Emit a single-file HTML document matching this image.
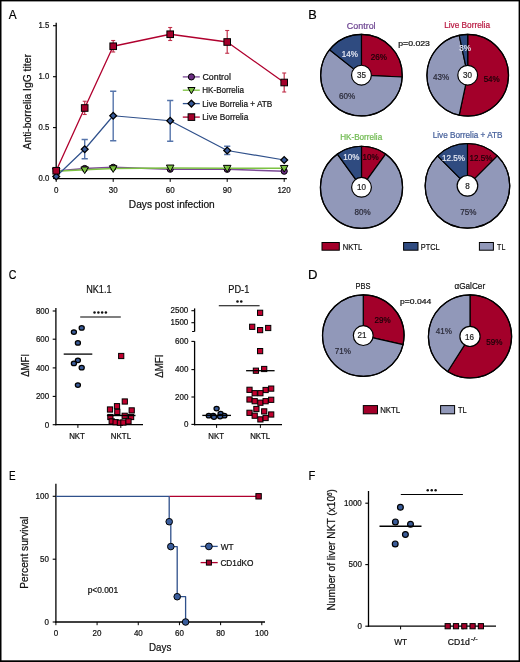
<!DOCTYPE html>
<html><head><meta charset="utf-8"><style>
html,body{margin:0;padding:0;background:#fff;}
svg{display:block;font-family:"Liberation Sans", sans-serif;will-change:transform;}
</style></head><body>
<svg width="520" height="662" viewBox="0 0 520 662">
<rect x="0" y="0" width="520" height="662" fill="#fff"/>
<text transform="translate(8.84,18.75) scale(0.885,1)" font-size="13.36" fill="#000" stroke="#000" stroke-width="0.2" >A</text>
<line x1="56.20" y1="22.80" x2="56.20" y2="179.30" stroke="#000" stroke-width="1.3" />
<line x1="55.60" y1="178.70" x2="286.90" y2="178.70" stroke="#000" stroke-width="1.3" />
<line x1="53.00" y1="178.50" x2="56.20" y2="178.50" stroke="#000" stroke-width="1.1" />
<text transform="translate(38.45,181.11) scale(0.900,1)" font-size="8.60" fill="#111" stroke="#111" stroke-width="0.22" >0.0</text>
<line x1="53.00" y1="127.60" x2="56.20" y2="127.60" stroke="#000" stroke-width="1.1" />
<text transform="translate(38.45,130.21) scale(0.900,1)" font-size="8.60" fill="#111" stroke="#111" stroke-width="0.22" >0.5</text>
<line x1="53.00" y1="76.70" x2="56.20" y2="76.70" stroke="#000" stroke-width="1.1" />
<text transform="translate(38.45,79.31) scale(0.900,1)" font-size="8.60" fill="#111" stroke="#111" stroke-width="0.22" >1.0</text>
<line x1="53.00" y1="25.70" x2="56.20" y2="25.70" stroke="#000" stroke-width="1.1" />
<text transform="translate(38.45,28.27) scale(0.900,1)" font-size="8.60" fill="#111" stroke="#111" stroke-width="0.22" >1.5</text>
<line x1="56.20" y1="178.70" x2="56.20" y2="181.90" stroke="#000" stroke-width="1.0" />
<text transform="translate(53.98,193.48) scale(0.910,1)" font-size="8.80" fill="#111" stroke="#111" stroke-width="0.22" >0</text>
<line x1="113.20" y1="178.70" x2="113.20" y2="181.90" stroke="#000" stroke-width="1.0" />
<text transform="translate(108.76,193.48) scale(0.910,1)" font-size="8.80" fill="#111" stroke="#111" stroke-width="0.22" >30</text>
<line x1="170.20" y1="178.70" x2="170.20" y2="181.90" stroke="#000" stroke-width="1.0" />
<text transform="translate(165.72,193.48) scale(0.910,1)" font-size="8.80" fill="#111" stroke="#111" stroke-width="0.22" >60</text>
<line x1="227.20" y1="178.70" x2="227.20" y2="181.90" stroke="#000" stroke-width="1.0" />
<text transform="translate(222.74,193.48) scale(0.910,1)" font-size="8.80" fill="#111" stroke="#111" stroke-width="0.22" >90</text>
<line x1="284.20" y1="178.70" x2="284.20" y2="181.90" stroke="#000" stroke-width="1.0" />
<text transform="translate(277.39,193.48) scale(0.910,1)" font-size="8.80" fill="#111" stroke="#111" stroke-width="0.22" >120</text>
<text transform="translate(128.79,208.40) scale(0.992,1)" font-size="10.27" fill="#111" stroke="#111" stroke-width="0.22" >Days post infection</text>
<text transform="translate(31.40,149.45) rotate(-90) scale(0.954,1)" font-size="10.83" fill="#111" stroke="#111" stroke-width="0.22">Anti-borrelia IgG titer</text>
<polyline points="56.20,171.00 84.70,168.50 113.20,167.30 170.20,169.20 227.20,169.30 284.20,171.20" fill="none" stroke="#7b4a96" stroke-width="1.5" stroke-linejoin="round" />
<circle cx="56.20" cy="171.00" r="3.1" fill="#6b2d82" stroke="#000" stroke-width="1.0"/>
<circle cx="84.70" cy="168.50" r="3.1" fill="#6b2d82" stroke="#000" stroke-width="1.0"/>
<circle cx="113.20" cy="167.30" r="3.1" fill="#6b2d82" stroke="#000" stroke-width="1.0"/>
<circle cx="170.20" cy="169.20" r="3.1" fill="#6b2d82" stroke="#000" stroke-width="1.0"/>
<circle cx="227.20" cy="169.30" r="3.1" fill="#6b2d82" stroke="#000" stroke-width="1.0"/>
<circle cx="284.20" cy="171.20" r="3.1" fill="#6b2d82" stroke="#000" stroke-width="1.0"/>
<polyline points="56.20,171.20 84.70,169.80 113.20,168.60 170.20,167.90 227.20,168.20 284.20,168.30" fill="none" stroke="#7cc242" stroke-width="1.5" stroke-linejoin="round" />
<polygon points="52.40,168.35 60.00,168.35 56.20,175.00" fill="#7cc242" stroke="#000" stroke-width="1.0"/>
<polygon points="80.90,166.95 88.50,166.95 84.70,173.60" fill="#7cc242" stroke="#000" stroke-width="1.0"/>
<polygon points="109.40,165.75 117.00,165.75 113.20,172.40" fill="#7cc242" stroke="#000" stroke-width="1.0"/>
<polygon points="166.40,165.05 174.00,165.05 170.20,171.70" fill="#7cc242" stroke="#000" stroke-width="1.0"/>
<polygon points="223.40,165.35 231.00,165.35 227.20,172.00" fill="#7cc242" stroke="#000" stroke-width="1.0"/>
<polygon points="280.40,165.45 288.00,165.45 284.20,172.10" fill="#7cc242" stroke="#000" stroke-width="1.0"/>
<line x1="84.70" y1="139.50" x2="84.70" y2="158.75" stroke="#5574ab" stroke-width="1.4" />
<line x1="81.60" y1="139.50" x2="87.80" y2="139.50" stroke="#5574ab" stroke-width="1.5" />
<line x1="81.60" y1="158.75" x2="87.80" y2="158.75" stroke="#5574ab" stroke-width="1.5" />
<line x1="113.20" y1="91.25" x2="113.20" y2="140.75" stroke="#5574ab" stroke-width="1.4" />
<line x1="110.10" y1="91.25" x2="116.30" y2="91.25" stroke="#5574ab" stroke-width="1.5" />
<line x1="110.10" y1="140.75" x2="116.30" y2="140.75" stroke="#5574ab" stroke-width="1.5" />
<line x1="170.20" y1="100.50" x2="170.20" y2="141.25" stroke="#5574ab" stroke-width="1.4" />
<line x1="167.10" y1="100.50" x2="173.30" y2="100.50" stroke="#5574ab" stroke-width="1.5" />
<line x1="167.10" y1="141.25" x2="173.30" y2="141.25" stroke="#5574ab" stroke-width="1.5" />
<line x1="227.20" y1="146.25" x2="227.20" y2="154.50" stroke="#5574ab" stroke-width="1.4" />
<line x1="224.10" y1="146.25" x2="230.30" y2="146.25" stroke="#5574ab" stroke-width="1.5" />
<line x1="224.10" y1="154.50" x2="230.30" y2="154.50" stroke="#5574ab" stroke-width="1.5" />
<polyline points="56.20,176.50 84.70,149.25 113.20,115.75 170.20,120.75 227.20,150.50 284.20,160.00" fill="none" stroke="#2f508b" stroke-width="1.2" stroke-linejoin="round" />
<polygon points="56.20,173.10 59.60,176.50 56.20,179.90 52.80,176.50" fill="#36599a" stroke="#000" stroke-width="1.3"/>
<polygon points="84.70,145.85 88.10,149.25 84.70,152.65 81.30,149.25" fill="#36599a" stroke="#000" stroke-width="1.3"/>
<polygon points="113.20,112.35 116.60,115.75 113.20,119.15 109.80,115.75" fill="#36599a" stroke="#000" stroke-width="1.3"/>
<polygon points="170.20,117.35 173.60,120.75 170.20,124.15 166.80,120.75" fill="#36599a" stroke="#000" stroke-width="1.3"/>
<polygon points="227.20,147.10 230.60,150.50 227.20,153.90 223.80,150.50" fill="#36599a" stroke="#000" stroke-width="1.3"/>
<polygon points="284.20,156.60 287.60,160.00 284.20,163.40 280.80,160.00" fill="#36599a" stroke="#000" stroke-width="1.3"/>
<line x1="84.70" y1="101.25" x2="84.70" y2="114.50" stroke="#c0304a" stroke-width="1.2" />
<line x1="82.70" y1="101.25" x2="86.70" y2="101.25" stroke="#c0304a" stroke-width="1.1" />
<line x1="82.70" y1="114.50" x2="86.70" y2="114.50" stroke="#c0304a" stroke-width="1.1" />
<line x1="113.20" y1="40.50" x2="113.20" y2="52.00" stroke="#c0304a" stroke-width="1.2" />
<line x1="111.20" y1="40.50" x2="115.20" y2="40.50" stroke="#c0304a" stroke-width="1.1" />
<line x1="111.20" y1="52.00" x2="115.20" y2="52.00" stroke="#c0304a" stroke-width="1.1" />
<line x1="170.20" y1="27.50" x2="170.20" y2="40.50" stroke="#c0304a" stroke-width="1.2" />
<line x1="168.20" y1="27.50" x2="172.20" y2="27.50" stroke="#c0304a" stroke-width="1.1" />
<line x1="168.20" y1="40.50" x2="172.20" y2="40.50" stroke="#c0304a" stroke-width="1.1" />
<line x1="227.20" y1="30.50" x2="227.20" y2="53.25" stroke="#c0304a" stroke-width="1.2" />
<line x1="225.20" y1="30.50" x2="229.20" y2="30.50" stroke="#c0304a" stroke-width="1.1" />
<line x1="225.20" y1="53.25" x2="229.20" y2="53.25" stroke="#c0304a" stroke-width="1.1" />
<line x1="284.20" y1="73.00" x2="284.20" y2="92.00" stroke="#c0304a" stroke-width="1.2" />
<line x1="282.20" y1="73.00" x2="286.20" y2="73.00" stroke="#c0304a" stroke-width="1.1" />
<line x1="282.20" y1="92.00" x2="286.20" y2="92.00" stroke="#c0304a" stroke-width="1.1" />
<polyline points="56.20,170.75 84.70,108.00 113.20,46.25 170.20,34.25 227.20,42.00 284.20,82.50" fill="none" stroke="#b0002e" stroke-width="1.3" stroke-linejoin="round" />
<rect x="52.90" y="167.45" width="6.6" height="6.6" fill="#a3002a" stroke="#000" stroke-width="1.0"/>
<rect x="81.40" y="104.70" width="6.6" height="6.6" fill="#a3002a" stroke="#000" stroke-width="1.0"/>
<rect x="109.90" y="42.95" width="6.6" height="6.6" fill="#a3002a" stroke="#000" stroke-width="1.0"/>
<rect x="166.90" y="30.95" width="6.6" height="6.6" fill="#a3002a" stroke="#000" stroke-width="1.0"/>
<rect x="223.90" y="38.70" width="6.6" height="6.6" fill="#a3002a" stroke="#000" stroke-width="1.0"/>
<rect x="280.90" y="79.20" width="6.6" height="6.6" fill="#a3002a" stroke="#000" stroke-width="1.0"/>
<line x1="182.80" y1="76.90" x2="199.80" y2="76.90" stroke="#7b4a96" stroke-width="1.3" />
<circle cx="191.40" cy="76.90" r="3.1" fill="#6b2d82" stroke="#000" stroke-width="1.0"/>
<text transform="translate(202.46,79.80) scale(0.950,1)" font-size="9.29" fill="#111" stroke="#111" stroke-width="0.22" >Control</text>
<line x1="182.80" y1="90.20" x2="199.80" y2="90.20" stroke="#7cc242" stroke-width="1.3" />
<polygon points="187.80,87.50 195.00,87.50 191.40,93.80" fill="#7cc242" stroke="#000" stroke-width="1.0"/>
<text transform="translate(202.25,93.10) scale(0.870,1)" font-size="9.29" fill="#111" stroke="#111" stroke-width="0.22" >HK-Borrelia</text>
<line x1="182.80" y1="103.60" x2="199.80" y2="103.60" stroke="#2f508b" stroke-width="1.3" />
<polygon points="191.40,100.20 194.80,103.60 191.40,107.00 188.00,103.60" fill="#36599a" stroke="#000" stroke-width="1.3"/>
<text transform="translate(202.24,106.50) scale(0.888,1)" font-size="9.29" fill="#111" stroke="#111" stroke-width="0.22" >Live Borrelia + ATB</text>
<line x1="182.80" y1="117.10" x2="199.80" y2="117.10" stroke="#b0002e" stroke-width="1.3" />
<rect x="188.10" y="113.80" width="6.6" height="6.6" fill="#a3002a" stroke="#000" stroke-width="1.0"/>
<text transform="translate(202.24,120.00) scale(0.893,1)" font-size="9.29" fill="#111" stroke="#111" stroke-width="0.22" >Live Borrelia</text>
<text transform="translate(308.28,18.80) scale(1.014,1)" font-size="12.54" fill="#000" stroke="#000" stroke-width="0.2" >B</text>
<path d="M361.45,75.15 L361.45,34.35 A40.8,40.8 0 0 1 402.21,76.98 Z" fill="#a3002a" stroke="#000" stroke-width="1.2" stroke-linejoin="round"/>
<path d="M361.45,75.15 L402.21,76.98 A40.8,40.8 0 1 1 329.55,49.71 Z" fill="#9198b9" stroke="#000" stroke-width="1.2" stroke-linejoin="round"/>
<path d="M361.45,75.15 L329.55,49.71 A40.8,40.8 0 0 1 361.45,34.35 Z" fill="#2f4b80" stroke="#000" stroke-width="1.2" stroke-linejoin="round"/>
<circle cx="361.45" cy="75.15" r="40.8" fill="none" stroke="#000" stroke-width="1.2"/>
<circle cx="361.45" cy="75.15" r="9.9" fill="#fff" stroke="#000" stroke-width="1.2"/>
<path d="M467.70,75.20 L467.70,34.40 A40.8,40.8 0 1 1 459.22,115.11 Z" fill="#a3002a" stroke="#000" stroke-width="1.2" stroke-linejoin="round"/>
<path d="M467.70,75.20 L459.22,115.11 A40.8,40.8 0 0 1 459.22,35.29 Z" fill="#9198b9" stroke="#000" stroke-width="1.2" stroke-linejoin="round"/>
<path d="M467.70,75.20 L459.22,35.29 A40.8,40.8 0 0 1 467.70,34.40 Z" fill="#2f4b80" stroke="#000" stroke-width="1.2" stroke-linejoin="round"/>
<circle cx="467.70" cy="75.20" r="40.8" fill="none" stroke="#000" stroke-width="1.2"/>
<circle cx="467.70" cy="75.20" r="9.9" fill="#fff" stroke="#000" stroke-width="1.2"/>
<path d="M361.50,187.30 L361.50,146.25 A41.05,41.05 0 0 1 385.63,154.09 Z" fill="#a3002a" stroke="#000" stroke-width="1.2" stroke-linejoin="round"/>
<path d="M361.50,187.30 L385.63,154.09 A41.05,41.05 0 1 1 337.37,154.09 Z" fill="#9198b9" stroke="#000" stroke-width="1.2" stroke-linejoin="round"/>
<path d="M361.50,187.30 L337.37,154.09 A41.05,41.05 0 0 1 361.50,146.25 Z" fill="#2f4b80" stroke="#000" stroke-width="1.2" stroke-linejoin="round"/>
<circle cx="361.50" cy="187.30" r="41.05" fill="none" stroke="#000" stroke-width="1.2"/>
<circle cx="361.50" cy="187.30" r="9.9" fill="#fff" stroke="#000" stroke-width="1.2"/>
<path d="M467.45,185.80 L467.45,143.50 A42.3,42.3 0 0 1 497.36,155.89 Z" fill="#a3002a" stroke="#000" stroke-width="1.2" stroke-linejoin="round"/>
<path d="M467.45,185.80 L497.36,155.89 A42.3,42.3 0 1 1 437.54,155.89 Z" fill="#9198b9" stroke="#000" stroke-width="1.2" stroke-linejoin="round"/>
<path d="M467.45,185.80 L437.54,155.89 A42.3,42.3 0 0 1 467.45,143.50 Z" fill="#2f4b80" stroke="#000" stroke-width="1.2" stroke-linejoin="round"/>
<circle cx="467.45" cy="185.80" r="42.3" fill="none" stroke="#000" stroke-width="1.2"/>
<circle cx="467.45" cy="185.80" r="10.3" fill="#fff" stroke="#000" stroke-width="1.2"/>
<text transform="translate(346.85,28.70) scale(0.919,1)" font-size="9.71" fill="#6e4592" stroke="#6e4592" stroke-width="0.22" >Control</text>
<text transform="translate(444.14,28.40) scale(0.904,1)" font-size="9.14" fill="#b8163f" stroke="#b8163f" stroke-width="0.22" >Live Borrelia</text>
<text transform="translate(340.15,140.00) scale(0.998,1)" font-size="8.16" fill="#6fba50" stroke="#6fba50" stroke-width="0.22" >HK-Borrelia</text>
<text transform="translate(432.74,137.80) scale(0.973,1)" font-size="8.44" fill="#46609b" stroke="#46609b" stroke-width="0.22" >Live Borrelia + ATB</text>
<text transform="translate(398.23,46.20) scale(1.148,1)" font-size="7.58" fill="#111" stroke="#111" stroke-width="0.22" >p=0.023</text>
<text transform="translate(357.11,78.18) scale(0.920,1)" font-size="8.80" fill="#1e1e1e" stroke="#1e1e1e" stroke-width="0.22" >35</text>
<text transform="translate(463.11,78.18) scale(0.920,1)" font-size="8.80" fill="#1e1e1e" stroke="#1e1e1e" stroke-width="0.22" >30</text>
<text transform="translate(356.97,190.18) scale(0.920,1)" font-size="8.80" fill="#1e1e1e" stroke="#1e1e1e" stroke-width="0.22" >10</text>
<text transform="translate(465.33,189.08) scale(0.920,1)" font-size="8.80" fill="#1e1e1e" stroke="#1e1e1e" stroke-width="0.22" >8</text>
<text transform="translate(370.64,60.18) scale(0.920,1)" font-size="8.80" fill="#1a0008" stroke="#1a0008" stroke-width="0.22" >26%</text>
<text transform="translate(341.74,57.21) scale(0.920,1)" font-size="8.80" fill="#e6e9f3" stroke="#e6e9f3" stroke-width="0.22" >14%</text>
<text transform="translate(338.94,99.18) scale(0.920,1)" font-size="8.80" fill="#2a2a38" stroke="#2a2a38" stroke-width="0.22" >60%</text>
<text transform="translate(459.23,51.08) scale(0.920,1)" font-size="8.80" fill="#e6e9f3" stroke="#e6e9f3" stroke-width="0.22" >3%</text>
<text transform="translate(433.04,80.13) scale(0.920,1)" font-size="8.80" fill="#2a2a38" stroke="#2a2a38" stroke-width="0.22" >43%</text>
<text transform="translate(483.63,81.51) scale(0.920,1)" font-size="8.80" fill="#1a0008" stroke="#1a0008" stroke-width="0.22" >54%</text>
<text transform="translate(362.39,159.73) scale(0.920,1)" font-size="8.80" fill="#1a0008" stroke="#1a0008" stroke-width="0.22" >10%</text>
<text transform="translate(343.14,159.73) scale(0.920,1)" font-size="8.80" fill="#e6e9f3" stroke="#e6e9f3" stroke-width="0.22" >10%</text>
<text transform="translate(354.56,215.38) scale(0.920,1)" font-size="8.80" fill="#2a2a38" stroke="#2a2a38" stroke-width="0.22" >80%</text>
<text transform="translate(469.56,160.58) scale(0.920,1)" font-size="8.80" fill="#1a0008" stroke="#1a0008" stroke-width="0.22" >12.5%</text>
<text transform="translate(442.06,160.58) scale(0.920,1)" font-size="8.80" fill="#e6e9f3" stroke="#e6e9f3" stroke-width="0.22" >12.5%</text>
<text transform="translate(460.24,215.26) scale(0.920,1)" font-size="8.80" fill="#2a2a38" stroke="#2a2a38" stroke-width="0.22" >75%</text>
<rect x="322.00" y="242.50" width="17.30" height="7.70" fill="#a3002a" stroke="#000" stroke-width="1"/>
<text transform="translate(342.79,249.70) scale(0.780,1)" font-size="9.76" fill="#111" stroke="#111" stroke-width="0.22" >NKTL</text>
<rect x="403.60" y="242.50" width="14.40" height="7.70" fill="#2f4b80" stroke="#000" stroke-width="1"/>
<text transform="translate(420.81,249.70) scale(0.770,1)" font-size="9.62" fill="#111" stroke="#111" stroke-width="0.22" >PTCL</text>
<rect x="479.40" y="242.50" width="14.00" height="7.70" fill="#9198b9" stroke="#000" stroke-width="1"/>
<text transform="translate(497.06,249.70) scale(0.726,1)" font-size="9.76" fill="#111" stroke="#111" stroke-width="0.22" >TL</text>
<text transform="translate(8.67,278.70) scale(0.840,1)" font-size="12.65" fill="#000" stroke="#000" stroke-width="0.2" >C</text>
<line x1="55.90" y1="307.90" x2="55.90" y2="425.30" stroke="#000" stroke-width="1.3" />
<line x1="55.30" y1="424.70" x2="143.00" y2="424.70" stroke="#000" stroke-width="1.3" />
<line x1="52.70" y1="424.70" x2="55.90" y2="424.70" stroke="#000" stroke-width="1.1" />
<text transform="translate(44.78,427.58) scale(0.910,1)" font-size="8.80" fill="#111" stroke="#111" stroke-width="0.22" >0</text>
<line x1="52.70" y1="396.40" x2="55.90" y2="396.40" stroke="#000" stroke-width="1.1" />
<text transform="translate(35.89,399.28) scale(0.910,1)" font-size="8.80" fill="#111" stroke="#111" stroke-width="0.22" >200</text>
<line x1="52.70" y1="367.90" x2="55.90" y2="367.90" stroke="#000" stroke-width="1.1" />
<text transform="translate(35.89,370.78) scale(0.910,1)" font-size="8.80" fill="#111" stroke="#111" stroke-width="0.22" >400</text>
<line x1="52.70" y1="339.20" x2="55.90" y2="339.20" stroke="#000" stroke-width="1.1" />
<text transform="translate(35.89,342.08) scale(0.910,1)" font-size="8.80" fill="#111" stroke="#111" stroke-width="0.22" >600</text>
<line x1="52.70" y1="311.00" x2="55.90" y2="311.00" stroke="#000" stroke-width="1.1" />
<text transform="translate(35.89,313.88) scale(0.910,1)" font-size="8.80" fill="#111" stroke="#111" stroke-width="0.22" >800</text>
<line x1="77.90" y1="424.70" x2="77.90" y2="427.90" stroke="#000" stroke-width="1.0" />
<line x1="120.80" y1="424.70" x2="120.80" y2="427.90" stroke="#000" stroke-width="1.0" />
<text transform="translate(69.17,439.00) scale(0.954,1)" font-size="8.28" fill="#111" stroke="#111" stroke-width="0.22" >NKT</text>
<text transform="translate(110.87,439.00) scale(0.958,1)" font-size="8.28" fill="#111" stroke="#111" stroke-width="0.22" >NKTL</text>
<text transform="translate(86.17,292.70) scale(0.792,1)" font-size="11.53" fill="#111" stroke="#111" stroke-width="0.22" >NK1.1</text>
<text transform="translate(28.70,376.79) rotate(-90) scale(0.900,1)" font-size="10.64" fill="#111" stroke="#111" stroke-width="0.22">ΔMFI</text>
<line x1="80.20" y1="317.00" x2="120.80" y2="317.00" stroke="#000" stroke-width="1.1" />
<circle cx="94.50" cy="312.40" r="1.25" fill="#111" stroke="none" stroke-width="0"/>
<circle cx="98.40" cy="312.40" r="1.25" fill="#111" stroke="none" stroke-width="0"/>
<circle cx="102.15" cy="312.40" r="1.25" fill="#111" stroke="none" stroke-width="0"/>
<circle cx="105.90" cy="312.40" r="1.25" fill="#111" stroke="none" stroke-width="0"/>
<ellipse cx="81.70" cy="327.90" rx="2.55" ry="2.25" fill="#3a5b98" stroke="#000" stroke-width="1.25"/>
<ellipse cx="73.90" cy="332.10" rx="2.55" ry="2.25" fill="#3a5b98" stroke="#000" stroke-width="1.25"/>
<ellipse cx="77.90" cy="342.90" rx="2.55" ry="2.25" fill="#3a5b98" stroke="#000" stroke-width="1.25"/>
<ellipse cx="77.90" cy="360.30" rx="2.55" ry="2.25" fill="#3a5b98" stroke="#000" stroke-width="1.25"/>
<ellipse cx="73.90" cy="363.40" rx="2.55" ry="2.25" fill="#3a5b98" stroke="#000" stroke-width="1.25"/>
<ellipse cx="81.70" cy="367.70" rx="2.55" ry="2.25" fill="#3a5b98" stroke="#000" stroke-width="1.25"/>
<ellipse cx="77.90" cy="385.00" rx="2.55" ry="2.25" fill="#3a5b98" stroke="#000" stroke-width="1.25"/>
<line x1="63.70" y1="354.10" x2="92.30" y2="354.10" stroke="#000" stroke-width="1.3" />
<rect x="118.60" y="353.40" width="5.2" height="5.2" fill="#c0002e" stroke="#000" stroke-width="1.0"/>
<rect x="122.20" y="398.90" width="5.2" height="5.2" fill="#c0002e" stroke="#000" stroke-width="1.0"/>
<rect x="114.40" y="403.60" width="5.2" height="5.2" fill="#c0002e" stroke="#000" stroke-width="1.0"/>
<rect x="107.40" y="406.90" width="5.2" height="5.2" fill="#c0002e" stroke="#000" stroke-width="1.0"/>
<rect x="129.10" y="407.80" width="5.2" height="5.2" fill="#c0002e" stroke="#000" stroke-width="1.0"/>
<rect x="114.70" y="409.30" width="5.2" height="5.2" fill="#c0002e" stroke="#000" stroke-width="1.0"/>
<rect x="122.10" y="413.20" width="5.2" height="5.2" fill="#c0002e" stroke="#000" stroke-width="1.0"/>
<rect x="107.80" y="414.40" width="5.2" height="5.2" fill="#c0002e" stroke="#000" stroke-width="1.0"/>
<rect x="128.50" y="414.40" width="5.2" height="5.2" fill="#c0002e" stroke="#000" stroke-width="1.0"/>
<rect x="109.10" y="418.80" width="5.2" height="5.2" fill="#c0002e" stroke="#000" stroke-width="1.0"/>
<rect x="113.00" y="419.60" width="5.2" height="5.2" fill="#c0002e" stroke="#000" stroke-width="1.0"/>
<rect x="117.30" y="420.10" width="5.2" height="5.2" fill="#c0002e" stroke="#000" stroke-width="1.0"/>
<rect x="120.80" y="419.90" width="5.2" height="5.2" fill="#c0002e" stroke="#000" stroke-width="1.0"/>
<rect x="125.90" y="418.80" width="5.2" height="5.2" fill="#c0002e" stroke="#000" stroke-width="1.0"/>
<line x1="106.90" y1="415.50" x2="135.50" y2="415.50" stroke="#000" stroke-width="1.4" />
<line x1="194.60" y1="308.40" x2="194.60" y2="331.50" stroke="#000" stroke-width="1.3" />
<line x1="194.60" y1="341.20" x2="194.60" y2="425.30" stroke="#000" stroke-width="1.3" />
<line x1="194.00" y1="424.70" x2="282.00" y2="424.70" stroke="#000" stroke-width="1.3" />
<line x1="192.10" y1="331.50" x2="194.60" y2="331.50" stroke="#000" stroke-width="1.0" />
<line x1="191.40" y1="310.70" x2="194.60" y2="310.70" stroke="#000" stroke-width="1.1" />
<text transform="translate(170.50,313.38) scale(0.910,1)" font-size="8.80" fill="#111" stroke="#111" stroke-width="0.22" >2500</text>
<line x1="191.40" y1="322.70" x2="194.60" y2="322.70" stroke="#000" stroke-width="1.1" />
<text transform="translate(170.50,325.38) scale(0.910,1)" font-size="8.80" fill="#111" stroke="#111" stroke-width="0.22" >1500</text>
<line x1="191.40" y1="424.40" x2="194.60" y2="424.40" stroke="#000" stroke-width="1.1" />
<text transform="translate(183.88,427.08) scale(0.910,1)" font-size="8.80" fill="#111" stroke="#111" stroke-width="0.22" >0</text>
<line x1="191.40" y1="397.00" x2="194.60" y2="397.00" stroke="#000" stroke-width="1.1" />
<text transform="translate(174.99,399.68) scale(0.910,1)" font-size="8.80" fill="#111" stroke="#111" stroke-width="0.22" >200</text>
<line x1="191.40" y1="369.60" x2="194.60" y2="369.60" stroke="#000" stroke-width="1.1" />
<text transform="translate(174.99,372.28) scale(0.910,1)" font-size="8.80" fill="#111" stroke="#111" stroke-width="0.22" >400</text>
<line x1="191.40" y1="341.40" x2="194.60" y2="341.40" stroke="#000" stroke-width="1.1" />
<text transform="translate(174.99,344.08) scale(0.910,1)" font-size="8.80" fill="#111" stroke="#111" stroke-width="0.22" >600</text>
<line x1="216.60" y1="424.70" x2="216.60" y2="427.90" stroke="#000" stroke-width="1.0" />
<line x1="260.40" y1="424.70" x2="260.40" y2="427.90" stroke="#000" stroke-width="1.0" />
<text transform="translate(208.37,439.00) scale(0.947,1)" font-size="8.28" fill="#111" stroke="#111" stroke-width="0.22" >NKT</text>
<text transform="translate(250.17,439.00) scale(0.949,1)" font-size="8.28" fill="#111" stroke="#111" stroke-width="0.22" >NKTL</text>
<text transform="translate(228.26,292.60) scale(0.833,1)" font-size="11.09" fill="#111" stroke="#111" stroke-width="0.22" >PD-1</text>
<text transform="translate(162.50,377.79) rotate(-90) scale(0.917,1)" font-size="10.64" fill="#111" stroke="#111" stroke-width="0.22">ΔMFI</text>
<line x1="218.80" y1="305.75" x2="259.60" y2="305.75" stroke="#000" stroke-width="1.1" />
<circle cx="237.50" cy="301.50" r="1.3" fill="#111" stroke="none" stroke-width="0"/>
<circle cx="241.25" cy="301.50" r="1.3" fill="#111" stroke="none" stroke-width="0"/>
<ellipse cx="216.60" cy="408.50" rx="2.55" ry="2.25" fill="#3a5b98" stroke="#000" stroke-width="1.25"/>
<ellipse cx="208.80" cy="415.70" rx="2.55" ry="2.25" fill="#3a5b98" stroke="#000" stroke-width="1.25"/>
<ellipse cx="213.20" cy="415.70" rx="2.55" ry="2.25" fill="#3a5b98" stroke="#000" stroke-width="1.25"/>
<ellipse cx="220.60" cy="413.70" rx="2.55" ry="2.25" fill="#3a5b98" stroke="#000" stroke-width="1.25"/>
<ellipse cx="224.40" cy="415.70" rx="2.55" ry="2.25" fill="#3a5b98" stroke="#000" stroke-width="1.25"/>
<ellipse cx="214.00" cy="417.10" rx="2.55" ry="2.25" fill="#3a5b98" stroke="#000" stroke-width="1.25"/>
<ellipse cx="220.10" cy="416.50" rx="2.55" ry="2.25" fill="#3a5b98" stroke="#000" stroke-width="1.25"/>
<line x1="202.30" y1="415.40" x2="231.00" y2="415.40" stroke="#000" stroke-width="1.3" />
<rect x="257.50" y="310.20" width="5.2" height="5.2" fill="#c0002e" stroke="#000" stroke-width="1.0"/>
<rect x="249.60" y="324.20" width="5.2" height="5.2" fill="#c0002e" stroke="#000" stroke-width="1.0"/>
<rect x="257.50" y="327.50" width="5.2" height="5.2" fill="#c0002e" stroke="#000" stroke-width="1.0"/>
<rect x="265.60" y="325.40" width="5.2" height="5.2" fill="#c0002e" stroke="#000" stroke-width="1.0"/>
<rect x="257.50" y="348.50" width="5.2" height="5.2" fill="#c0002e" stroke="#000" stroke-width="1.0"/>
<rect x="253.30" y="368.10" width="5.2" height="5.2" fill="#c0002e" stroke="#000" stroke-width="1.0"/>
<rect x="261.60" y="366.40" width="5.2" height="5.2" fill="#c0002e" stroke="#000" stroke-width="1.0"/>
<rect x="246.90" y="387.20" width="5.2" height="5.2" fill="#c0002e" stroke="#000" stroke-width="1.0"/>
<rect x="268.60" y="386.00" width="5.2" height="5.2" fill="#c0002e" stroke="#000" stroke-width="1.0"/>
<rect x="263.00" y="387.40" width="5.2" height="5.2" fill="#c0002e" stroke="#000" stroke-width="1.0"/>
<rect x="252.10" y="390.60" width="5.2" height="5.2" fill="#c0002e" stroke="#000" stroke-width="1.0"/>
<rect x="257.80" y="390.60" width="5.2" height="5.2" fill="#c0002e" stroke="#000" stroke-width="1.0"/>
<rect x="246.90" y="396.90" width="5.2" height="5.2" fill="#c0002e" stroke="#000" stroke-width="1.0"/>
<rect x="252.10" y="398.60" width="5.2" height="5.2" fill="#c0002e" stroke="#000" stroke-width="1.0"/>
<rect x="257.80" y="400.10" width="5.2" height="5.2" fill="#c0002e" stroke="#000" stroke-width="1.0"/>
<rect x="263.00" y="398.60" width="5.2" height="5.2" fill="#c0002e" stroke="#000" stroke-width="1.0"/>
<rect x="268.60" y="397.20" width="5.2" height="5.2" fill="#c0002e" stroke="#000" stroke-width="1.0"/>
<rect x="253.80" y="406.40" width="5.2" height="5.2" fill="#c0002e" stroke="#000" stroke-width="1.0"/>
<rect x="261.60" y="408.80" width="5.2" height="5.2" fill="#c0002e" stroke="#000" stroke-width="1.0"/>
<rect x="246.90" y="410.20" width="5.2" height="5.2" fill="#c0002e" stroke="#000" stroke-width="1.0"/>
<rect x="252.10" y="413.10" width="5.2" height="5.2" fill="#c0002e" stroke="#000" stroke-width="1.0"/>
<rect x="257.80" y="416.80" width="5.2" height="5.2" fill="#c0002e" stroke="#000" stroke-width="1.0"/>
<rect x="263.00" y="415.40" width="5.2" height="5.2" fill="#c0002e" stroke="#000" stroke-width="1.0"/>
<rect x="268.60" y="411.90" width="5.2" height="5.2" fill="#c0002e" stroke="#000" stroke-width="1.0"/>
<line x1="246.10" y1="370.70" x2="274.60" y2="370.70" stroke="#000" stroke-width="1.3" />
<text transform="translate(308.05,279.00) scale(1.045,1)" font-size="12.54" fill="#000" stroke="#000" stroke-width="0.2" >D</text>
<path d="M363.25,335.60 L363.25,294.80 A40.8,40.8 0 0 1 403.03,344.68 Z" fill="#a3002a" stroke="#000" stroke-width="1.2" stroke-linejoin="round"/>
<path d="M363.25,335.60 L403.03,344.68 A40.8,40.8 0 1 1 363.25,294.80 Z" fill="#9198b9" stroke="#000" stroke-width="1.2" stroke-linejoin="round"/>
<circle cx="363.25" cy="335.60" r="40.8" fill="none" stroke="#000" stroke-width="1.2"/>
<circle cx="363.25" cy="335.60" r="9.9" fill="#fff" stroke="#000" stroke-width="1.2"/>
<path d="M470.00,336.40 L470.00,294.80 A41.6,41.6 0 1 1 447.71,371.52 Z" fill="#a3002a" stroke="#000" stroke-width="1.2" stroke-linejoin="round"/>
<path d="M470.00,336.40 L447.71,371.52 A41.6,41.6 0 0 1 470.00,294.80 Z" fill="#9198b9" stroke="#000" stroke-width="1.2" stroke-linejoin="round"/>
<circle cx="470.00" cy="336.40" r="41.6" fill="none" stroke="#000" stroke-width="1.2"/>
<circle cx="470.00" cy="336.40" r="10.1" fill="#fff" stroke="#000" stroke-width="1.2"/>
<text transform="translate(355.60,289.00) scale(0.765,1)" font-size="9.76" fill="#111" stroke="#111" stroke-width="0.22" >PBS</text>
<text transform="translate(454.47,288.80) scale(0.881,1)" font-size="9.29" fill="#111" stroke="#111" stroke-width="0.22" >αGalCer</text>
<text transform="translate(400.04,304.00) scale(1.177,1)" font-size="7.29" fill="#111" stroke="#111" stroke-width="0.22" >p=0.044</text>
<text transform="translate(357.61,338.18) scale(0.920,1)" font-size="8.80" fill="#1e1e1e" stroke="#1e1e1e" stroke-width="0.22" >21</text>
<text transform="translate(464.99,339.58) scale(0.920,1)" font-size="8.80" fill="#1e1e1e" stroke="#1e1e1e" stroke-width="0.22" >16</text>
<text transform="translate(374.59,323.08) scale(0.920,1)" font-size="8.80" fill="#1a0008" stroke="#1a0008" stroke-width="0.22" >29%</text>
<text transform="translate(334.69,354.31) scale(0.920,1)" font-size="8.80" fill="#2a2a38" stroke="#2a2a38" stroke-width="0.22" >71%</text>
<text transform="translate(435.69,333.66) scale(0.920,1)" font-size="8.80" fill="#2a2a38" stroke="#2a2a38" stroke-width="0.22" >41%</text>
<text transform="translate(486.18,344.83) scale(0.920,1)" font-size="8.80" fill="#1a0008" stroke="#1a0008" stroke-width="0.22" >59%</text>
<rect x="363.30" y="405.60" width="14.20" height="8.20" fill="#a3002a" stroke="#000" stroke-width="1"/>
<text transform="translate(380.17,413.00) scale(0.885,1)" font-size="8.87" fill="#111" stroke="#111" stroke-width="0.22" >NKTL</text>
<rect x="440.60" y="405.60" width="14.00" height="8.20" fill="#9198b9" stroke="#000" stroke-width="1"/>
<text transform="translate(458.05,413.00) scale(0.839,1)" font-size="8.87" fill="#111" stroke="#111" stroke-width="0.22" >TL</text>
<text transform="translate(9.01,480.20) scale(0.790,1)" font-size="12.54" fill="#000" stroke="#000" stroke-width="0.2" >E</text>
<line x1="55.90" y1="483.80" x2="55.90" y2="622.60" stroke="#000" stroke-width="1.3" />
<line x1="55.30" y1="622.00" x2="265.00" y2="622.00" stroke="#000" stroke-width="1.3" />
<line x1="52.70" y1="622.00" x2="55.90" y2="622.00" stroke="#000" stroke-width="1.1" />
<text transform="translate(44.48,624.68) scale(0.910,1)" font-size="8.80" fill="#111" stroke="#111" stroke-width="0.22" >0</text>
<line x1="52.70" y1="559.20" x2="55.90" y2="559.20" stroke="#000" stroke-width="1.1" />
<text transform="translate(40.03,561.88) scale(0.910,1)" font-size="8.80" fill="#111" stroke="#111" stroke-width="0.22" >50</text>
<line x1="52.70" y1="496.30" x2="55.90" y2="496.30" stroke="#000" stroke-width="1.1" />
<text transform="translate(35.59,498.98) scale(0.910,1)" font-size="8.80" fill="#111" stroke="#111" stroke-width="0.22" >100</text>
<line x1="55.90" y1="622.00" x2="55.90" y2="625.20" stroke="#000" stroke-width="1.0" />
<text transform="translate(53.68,636.48) scale(0.910,1)" font-size="8.80" fill="#111" stroke="#111" stroke-width="0.22" >0</text>
<line x1="97.08" y1="622.00" x2="97.08" y2="625.20" stroke="#000" stroke-width="1.0" />
<text transform="translate(92.60,636.48) scale(0.910,1)" font-size="8.80" fill="#111" stroke="#111" stroke-width="0.22" >20</text>
<line x1="138.26" y1="622.00" x2="138.26" y2="625.20" stroke="#000" stroke-width="1.0" />
<text transform="translate(133.88,636.48) scale(0.910,1)" font-size="8.80" fill="#111" stroke="#111" stroke-width="0.22" >40</text>
<line x1="179.44" y1="622.00" x2="179.44" y2="625.20" stroke="#000" stroke-width="1.0" />
<text transform="translate(174.96,636.48) scale(0.910,1)" font-size="8.80" fill="#111" stroke="#111" stroke-width="0.22" >60</text>
<line x1="220.62" y1="622.00" x2="220.62" y2="625.20" stroke="#000" stroke-width="1.0" />
<text transform="translate(216.16,636.48) scale(0.910,1)" font-size="8.80" fill="#111" stroke="#111" stroke-width="0.22" >80</text>
<line x1="261.80" y1="622.00" x2="261.80" y2="625.20" stroke="#000" stroke-width="1.0" />
<text transform="translate(254.99,636.48) scale(0.910,1)" font-size="8.80" fill="#111" stroke="#111" stroke-width="0.22" >100</text>
<text transform="translate(149.02,651.30) scale(0.883,1)" font-size="11.09" fill="#111" stroke="#111" stroke-width="0.22" >Days</text>
<text transform="translate(28.00,588.71) rotate(-90) scale(0.963,1)" font-size="10.55" fill="#111" stroke="#111" stroke-width="0.22">Percent survival</text>
<text transform="translate(87.65,592.80) scale(1.029,1)" font-size="8.16" fill="#111" stroke="#111" stroke-width="0.22" >p&lt;0.001</text>
<polyline points="55.90,496.30 169.20,496.30" fill="none" stroke="#2f508b" stroke-width="1.3" stroke-linejoin="round" />
<polyline points="169.20,496.30 258.60,496.30" fill="none" stroke="#b0002e" stroke-width="1.3" stroke-linejoin="round" />
<polyline points="169.20,496.30 169.20,521.70 170.80,521.70 170.80,546.60 177.20,546.60 177.20,596.70 185.60,596.70 185.60,622.00" fill="none" stroke="#2f508b" stroke-width="1.3" stroke-linejoin="round" />
<circle cx="169.20" cy="521.70" r="3.3" fill="#3a5d9c" stroke="#000" stroke-width="1.0"/>
<circle cx="170.80" cy="546.60" r="3.3" fill="#3a5d9c" stroke="#000" stroke-width="1.0"/>
<circle cx="177.20" cy="596.70" r="3.3" fill="#3a5d9c" stroke="#000" stroke-width="1.0"/>
<circle cx="185.60" cy="622.00" r="3.3" fill="#3a5d9c" stroke="#000" stroke-width="1.0"/>
<rect x="255.90" y="493.60" width="5.4" height="5.4" fill="#a3002a" stroke="#000" stroke-width="1.0"/>
<line x1="200.60" y1="546.40" x2="217.70" y2="546.40" stroke="#2f508b" stroke-width="1.3" />
<circle cx="208.90" cy="546.40" r="3.4" fill="#3a5d9c" stroke="#000" stroke-width="1.0"/>
<text transform="translate(220.76,549.50) scale(0.891,1)" font-size="9.31" fill="#111" stroke="#111" stroke-width="0.22" >WT</text>
<line x1="200.60" y1="562.60" x2="217.70" y2="562.60" stroke="#b0002e" stroke-width="1.3" />
<rect x="206.40" y="560.10" width="5.0" height="5.0" fill="#a3002a" stroke="#000" stroke-width="1.0"/>
<text transform="translate(220.39,565.70) scale(0.919,1)" font-size="9.00" fill="#111" stroke="#111" stroke-width="0.22" >CD1dKO</text>
<text transform="translate(308.40,479.60) scale(0.895,1)" font-size="12.54" fill="#000" stroke="#000" stroke-width="0.2" >F</text>
<line x1="368.50" y1="491.00" x2="368.50" y2="626.80" stroke="#000" stroke-width="1.3" />
<line x1="367.90" y1="626.20" x2="496.00" y2="626.20" stroke="#000" stroke-width="1.3" />
<line x1="365.30" y1="626.20" x2="368.50" y2="626.20" stroke="#000" stroke-width="1.1" />
<text transform="translate(357.38,628.88) scale(0.910,1)" font-size="8.80" fill="#111" stroke="#111" stroke-width="0.22" >0</text>
<line x1="365.30" y1="564.60" x2="368.50" y2="564.60" stroke="#000" stroke-width="1.1" />
<text transform="translate(348.49,567.28) scale(0.910,1)" font-size="8.80" fill="#111" stroke="#111" stroke-width="0.22" >500</text>
<line x1="365.30" y1="503.20" x2="368.50" y2="503.20" stroke="#000" stroke-width="1.1" />
<text transform="translate(344.00,505.88) scale(0.910,1)" font-size="8.80" fill="#111" stroke="#111" stroke-width="0.22" >1000</text>
<line x1="400.60" y1="626.20" x2="400.60" y2="629.40" stroke="#000" stroke-width="1.0" />
<line x1="463.00" y1="626.20" x2="463.00" y2="629.40" stroke="#000" stroke-width="1.0" />
<text transform="translate(394.16,644.80) scale(0.921,1)" font-size="9.02" fill="#111" stroke="#111" stroke-width="0.22" >WT</text>
<text transform="translate(447.67,644.80) scale(1.008,1)" font-size="8.58" fill="#111" stroke="#111" stroke-width="0.22" >CD1d</text>
<text transform="translate(470.87,640.60) scale(1.474,1)" font-size="5.00" fill="#111" stroke="#111" stroke-width="0.22" >-/-</text>
<line x1="400.80" y1="494.50" x2="462.90" y2="494.50" stroke="#000" stroke-width="1.1" />
<circle cx="427.75" cy="490.25" r="1.25" fill="#111" stroke="none" stroke-width="0"/>
<circle cx="431.75" cy="490.25" r="1.25" fill="#111" stroke="none" stroke-width="0"/>
<circle cx="435.60" cy="490.25" r="1.25" fill="#111" stroke="none" stroke-width="0"/>
<circle cx="400.40" cy="507.25" r="2.9" fill="#3a5b98" stroke="#000" stroke-width="1.2"/>
<circle cx="395.40" cy="521.90" r="2.9" fill="#3a5b98" stroke="#000" stroke-width="1.2"/>
<circle cx="410.50" cy="524.30" r="2.9" fill="#3a5b98" stroke="#000" stroke-width="1.2"/>
<circle cx="405.40" cy="534.50" r="2.9" fill="#3a5b98" stroke="#000" stroke-width="1.2"/>
<circle cx="395.20" cy="543.90" r="2.9" fill="#3a5b98" stroke="#000" stroke-width="1.2"/>
<line x1="379.50" y1="526.30" x2="421.50" y2="526.30" stroke="#000" stroke-width="1.4" />
<rect x="445.10" y="623.60" width="5.2" height="5.2" fill="#a3002a" stroke="#000" stroke-width="1.0"/>
<rect x="453.40" y="623.60" width="5.2" height="5.2" fill="#a3002a" stroke="#000" stroke-width="1.0"/>
<rect x="461.70" y="623.60" width="5.2" height="5.2" fill="#a3002a" stroke="#000" stroke-width="1.0"/>
<rect x="470.00" y="623.60" width="5.2" height="5.2" fill="#a3002a" stroke="#000" stroke-width="1.0"/>
<rect x="478.30" y="623.60" width="5.2" height="5.2" fill="#a3002a" stroke="#000" stroke-width="1.0"/>
<text transform="translate(335.4,610.52) rotate(-90) scale(0.980,1)" font-size="10.40" fill="#111" stroke="#111" stroke-width="0.22">Number of liver NKT (x10<tspan dy="-3.8" font-size="6.45">6</tspan><tspan dy="3.8">)</tspan></text>
<rect x="0" y="0" width="1.5" height="662" fill="#000"/>
<rect x="0" y="0" width="520" height="1.4" fill="#000"/>
<rect x="518.6" y="0" width="1.4" height="662" fill="#000"/>
<rect x="0" y="660.3" width="520" height="1.7" fill="#000"/>
</svg>
</body></html>
